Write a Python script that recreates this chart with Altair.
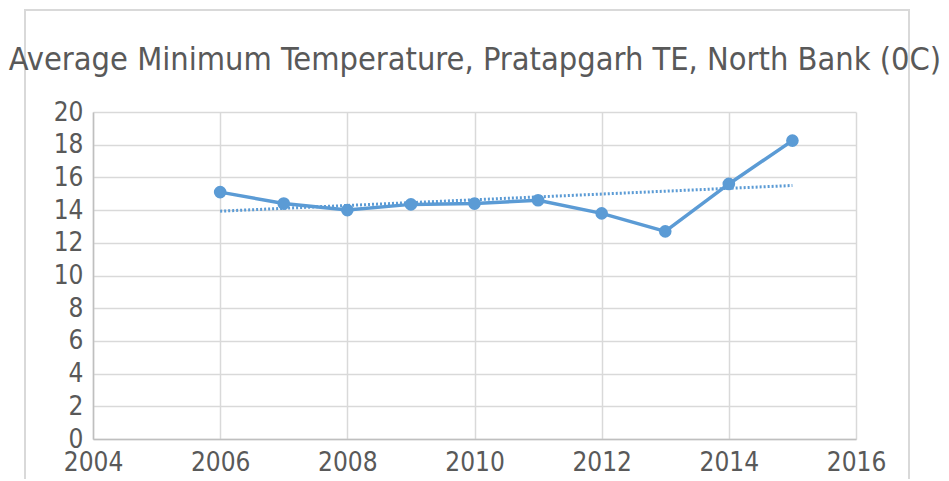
import altair as alt
import pandas as pd

years = [2006, 2007, 2008, 2009, 2010, 2011, 2012, 2013, 2014, 2015]
min_temp = [15.1, 14.4, 14.0, 14.35, 14.4, 14.6, 13.8, 12.7, 15.6, 18.25]
x_ticks = [2004, 2006, 2008, 2010, 2012, 2014, 2016]
y_ticks = list(range(0, 21, 2))
title_text = "Average Minimum Temperature, Pratapgarh TE, North Bank (0C)"

FONT = "DejaVu Sans Condensed, DejaVu Sans"
TXT = "#595959"
BLUE = "#5b9bd5"

df = pd.DataFrame({"year": years, "temp": min_temp})

x_enc = alt.X("year:Q", scale=alt.Scale(domain=[2004, 2016], nice=False, zero=False),
              axis=alt.Axis(values=x_ticks, format="d", title=None, labelFontSize=26,
                            labelColor=TXT, labelFont=FONT, ticks=False, labelPadding=10,
                            gridColor="#d9d9d9", gridWidth=1.5, domainColor="#bfbfbf",
                            domainWidth=1.5, labelFlush=False))
y_enc = alt.Y("temp:Q", scale=alt.Scale(domain=[0, 20], nice=False),
              axis=alt.Axis(values=y_ticks, title=None, labelFontSize=26, labelColor=TXT,
                            labelFont=FONT, ticks=False, labelPadding=10,
                            gridColor="#d9d9d9", gridWidth=1.5, domainColor="#bfbfbf",
                            domainWidth=1.5))

base = alt.Chart(df)

frame = base.mark_rect(fill=None, stroke="#d9d9d9", strokeWidth=1.5).encode(
    x=alt.value(-68), x2=alt.value(816), y=alt.value(-102), y2=alt.value(500))
title = alt.Chart(pd.DataFrame({"t": [title_text]})).mark_text(
    font=FONT, fontSize=32.3, color=TXT, align="center", baseline="middle").encode(
    text="t:N", x=alt.value(382), y=alt.value(-52))
line = base.mark_line(color=BLUE, strokeWidth=3.5).encode(x=x_enc, y=y_enc)
pts = base.mark_circle(color=BLUE, size=160, opacity=1).encode(x=x_enc, y=y_enc)
trend = base.transform_regression("year", "temp").mark_line(
    color=BLUE, strokeWidth=3, strokeDash=[2, 2]).encode(x=x_enc, y=y_enc)

chart = alt.layer(frame, title, trend, line, pts).properties(
    width=763, height=327,
    autosize=alt.AutoSizeParams(type="none"),
    padding={"left": 85, "top": 104, "right": 85, "bottom": 40},
).configure_view(stroke=None)

chart.save("out.html", embed_options={"renderer": "svg", "actions": False})
